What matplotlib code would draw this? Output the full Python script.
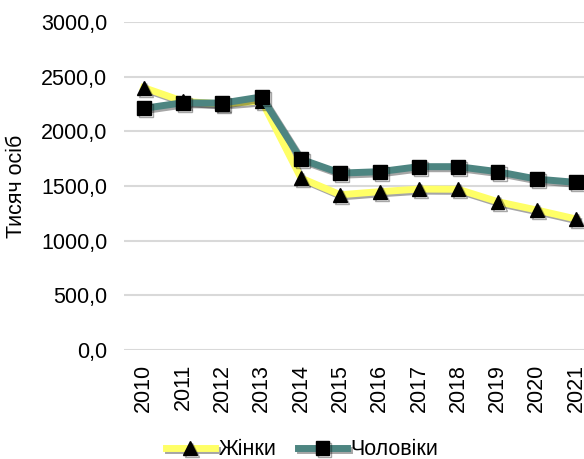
import matplotlib.pyplot as plt
import matplotlib.patheffects as pe

years = ["2010", "2011", "2012", "2013", "2014", "2015", "2016",
         "2017", "2018", "2019", "2020", "2021"]
women = [2400, 2275, 2250, 2280, 1573, 1420, 1448, 1472, 1470, 1357, 1280, 1198]
men = [2210, 2262, 2258, 2315, 1745, 1618, 1631, 1677, 1677, 1631, 1563, 1533]
yticks = [0, 500, 1000, 1500, 2000, 2500, 3000]

plt.rcParams['font.family'] = ['Liberation Sans', 'DejaVu Sans']
fs = 15.5

fig = plt.figure(figsize=(5.84, 4.59), dpi=100)
ax = fig.add_axes([0.2123, 0.2375, 0.808, 0.7145])

x = list(range(len(years)))
shadow = [pe.SimpleLineShadow(offset=(1.5, -1.5), shadow_color='black', alpha=0.35, rho=0.3),
          pe.Normal()]

ax.plot(x, women, color='#ffff66', lw=5, marker='^', ms=10,
        mfc='black', mec='black', label='Жінки', path_effects=shadow, zorder=3)
ax.plot(x, men, color='#4d8581', lw=5, marker='s', ms=10,
        mfc='black', mec='black', label='Чоловіки', path_effects=shadow, zorder=4)

ax.set_xlim(-0.5, len(years) - 0.5)
ax.set_ylim(0, 3000)
ax.set_yticks(yticks)
ax.set_yticklabels([f"{v:.1f}".replace('.', ',') for v in yticks], fontsize=fs)
ax.set_xticks(x)
ax.set_xticklabels(years, rotation=90, fontsize=fs)
ax.tick_params(length=0, pad=12)
ax.tick_params(axis='x', pad=10)
ax.grid(axis='y', color='#d9d9d9', lw=1.5)
ax.set_axisbelow(True)
for s in ax.spines.values():
    s.set_visible(False)

ax.set_ylabel('Тисяч осіб', fontsize=fs)
ax.yaxis.set_label_coords(-0.205, 0.5)

fig.legend(loc='center', bbox_to_anchor=(0.517, 0.02), ncol=2, frameon=False,
           fontsize=fs, handlelength=2.3, handletextpad=0.15, columnspacing=1.0)

fig.savefig('out.png', dpi=100)
